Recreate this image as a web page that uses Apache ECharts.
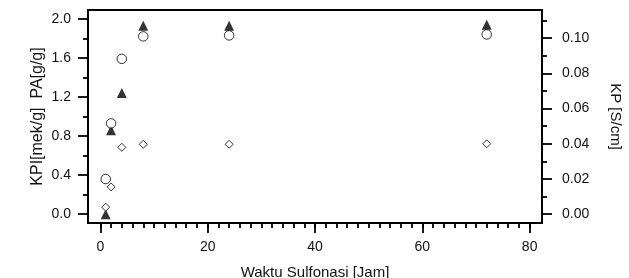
<!DOCTYPE html>
<html>
<head>
<meta charset="utf-8">
<script src="https://cdn.jsdelivr.net/npm/echarts@6/dist/echarts.min.js"></script>
<style>
  html, body { margin: 0; padding: 0; background: #fff; }
  #chart { width: 629px; height: 278px; }
</style>
</head>
<body>
<div id="chart"></div>
<script>
// data
var waktu = [1, 2, 4, 8, 24, 72];
var kpi = [0.36, 0.93, 1.59, 1.82, 1.83, 1.84];        // open circles, left axis
var pa = [0.0, 0.86, 1.24, 1.93, 1.93, 1.94];          // filled triangles, left axis
var kp = [0.004, 0.0155, 0.038, 0.0397, 0.0397, 0.040]; // open diamonds, right axis

// tick positions
var xMajor = [0, 20, 40, 60, 80];
var xMinor = [0, 2, 4, 6, 8, 10, 12, 14, 16, 18, 20, 22, 24, 26, 28, 30, 32, 34, 36, 38, 40,
              42, 44, 46, 48, 50, 52, 54, 56, 58, 60, 62, 64, 66, 68, 70, 72, 74, 76, 78, 80];
var leftMajor = [0, 0.4, 0.8, 1.2, 1.6, 2.0];
var leftMinor = [0.2, 0.6, 1.0, 1.4, 1.8];
var rightMajor = [0, 0.02, 0.04, 0.06, 0.08, 0.10];
var rightMinor = [0.01, 0.03, 0.05, 0.07, 0.09, 0.11];

var chart = echarts.init(document.getElementById("chart"));

var font = "Liberation Sans";
var tickLine = { color: "#000", width: 1.8 };
var xRange = { min: -2.3, max: 82.3 };
var leftRange = { min: -0.09, max: 2.09 };
var rightRange = { min: -0.005, max: 0.116 };

function pairs(xs, ys) {
    var out = [];
    for (var i = 0; i < xs.length; i++) out.push([xs[i], ys[i]]);
    return out;
}

// extra axis used only to draw the short minor ticks
function minorAxis(range, values, pos) {
    return {
        type: "value",
        min: range.min, max: range.max,
        position: pos,
        offset: 0,
        axisLine: { show: false, onZero: false },
        splitLine: { show: false },
        axisTick: { show: true, customValues: values, length: 5, lineStyle: tickLine },
        axisLabel: { show: false }
    };
}

var option = {
    animation: false,
    grid: {
        left: 88, right: 87, top: 10, bottom: 55,
        show: true,
        borderColor: "#000",
        borderWidth: 2,
        outerBoundsMode: "none"
    },
    xAxis: [
        {
            type: "value",
            min: xRange.min, max: xRange.max,
            position: "bottom",
            name: "Waktu Sulfonasi [Jam]",
            nameLocation: "middle",
            nameGap: 42,
            nameMoveOverlap: false,
            nameTextStyle: { fontFamily: font, fontSize: 15, color: "#111" },
            axisLine: { show: false, onZero: false },
            splitLine: { show: false },
            axisTick: { show: true, customValues: xMajor, length: 10, lineStyle: tickLine },
            axisLabel: {
                customValues: xMajor, margin: 17,
                fontFamily: font, fontSize: 14, color: "#111",
                formatter: function (v) { return String(Math.round(v)); }
            }
        },
        minorAxis(xRange, xMinor, "bottom")
    ],
    yAxis: [
        {
            type: "value",
            min: leftRange.min, max: leftRange.max,
            position: "left",
            name: "KPI[mek/g]  PA[g/g]",
            nameLocation: "middle",
            nameGap: 42,
            nameMoveOverlap: false,
            nameTextStyle: { fontFamily: font, fontSize: 16, color: "#111" },
            axisLine: { show: false, onZero: false },
            splitLine: { show: false },
            axisTick: { show: true, customValues: leftMajor, length: 10, lineStyle: tickLine },
            axisLabel: {
                customValues: leftMajor, margin: 17,
                fontFamily: font, fontSize: 14, color: "#111",
                formatter: function (v) { return v.toFixed(1); }
            }
        },
        {
            type: "value",
            min: rightRange.min, max: rightRange.max,
            position: "right",
            name: "KP [S/cm]",
            nameLocation: "middle",
            nameRotate: -90,
            nameGap: 66,
            nameMoveOverlap: false,
            nameTextStyle: { fontFamily: font, fontSize: 15, color: "#111" },
            axisLine: { show: false, onZero: false },
            splitLine: { show: false },
            axisTick: { show: true, customValues: rightMajor, length: 10, lineStyle: tickLine },
            axisLabel: {
                customValues: rightMajor, margin: 20,
                fontFamily: font, fontSize: 14, color: "#111",
                formatter: function (v) { return v.toFixed(2); }
            }
        },
        minorAxis(leftRange, leftMinor, "left"),
        minorAxis(rightRange, rightMinor, "right")
    ],
    series: [
        {
            name: "PA",
            type: "scatter",
            xAxisIndex: 0, yAxisIndex: 0,
            symbol: "triangle",
            symbolSize: 10,
            itemStyle: { color: "#000" },
            data: pairs(waktu, pa)
        },
        {
            name: "KPI",
            type: "scatter",
            xAxisIndex: 0, yAxisIndex: 0,
            symbol: "circle",
            symbolSize: 9.5,
            itemStyle: { color: "#fff", borderColor: "#000", borderWidth: 1 },
            data: pairs(waktu, kpi)
        },
        {
            name: "KP",
            type: "scatter",
            xAxisIndex: 0, yAxisIndex: 1,
            symbol: "diamond",
            symbolSize: 8,
            itemStyle: { color: "#fff", borderColor: "#000", borderWidth: 1 },
            data: pairs(waktu, kp)
        }
    ]
};

option && chart.setOption(option);
</script>
</body>
</html>
